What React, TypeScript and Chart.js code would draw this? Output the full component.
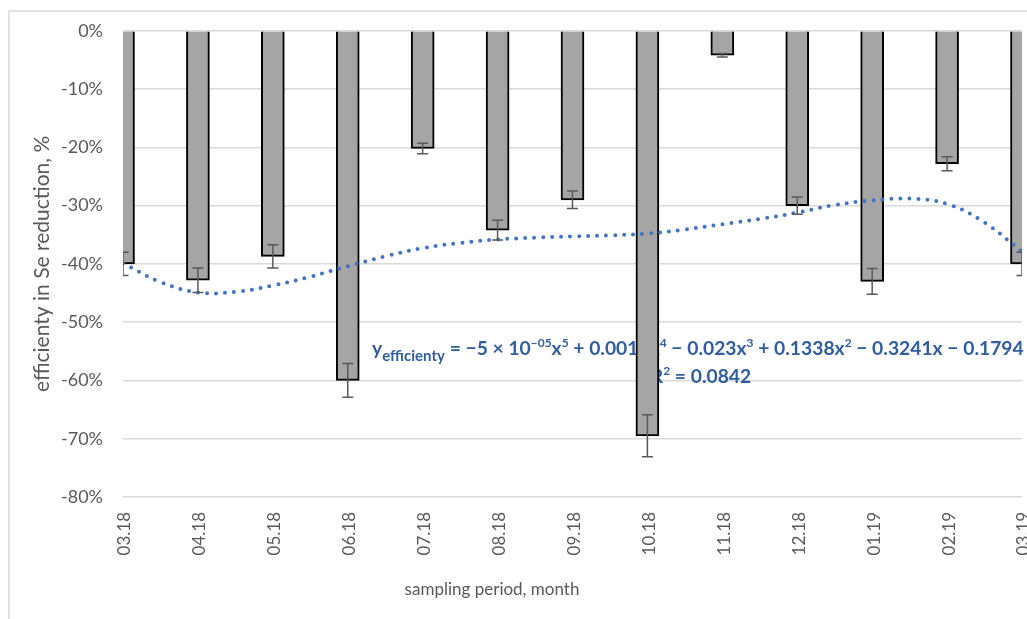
import { useEffect, useRef } from 'react';
import { Chart, registerables } from 'chart.js';

Chart.register(...registerables);

// Sampling months (one bar per month)
const months = ['03.18', '04.18', '05.18', '06.18', '07.18', '08.18', '09.18', '10.18', '11.18', '12.18', '01.19', '02.19', '03.19'];

// Efficiency in Se reduction, %
const efficiency = [-40, -42.8, -38.7, -60, -20.2, -34.2, -29, -69.5, -4.2, -30, -43, -22.8, -40];

// Error margins (±), %
const errorMargin = [2, 2.1, 2, 2.9, 0.9, 1.7, 1.5, 3.6, 0.3, 1.5, 2.2, 1.2, 2];

// Polynomial trendline, sampled along the month index (1 = 03.18 ... 13 = 03.19)
const trendX = [1, 1.5, 2, 2.5, 3, 3.5, 4, 4.5, 5, 5.5, 6, 6.5, 7, 7.5, 8, 8.5, 9, 9.5, 10, 10.5, 11, 11.5, 12, 12.5, 13];
const trendY = [-39.9, -43.1, -44.9, -44.8, -43.7, -42.2, -40.4, -38.7, -37.3, -36.4, -35.8, -35.5, -35.3, -35.1, -34.8, -34.1, -33.2, -32.3, -31.2, -29.9, -29.1, -28.8, -29.7, -32.9, -37.9];

// Y-axis tick values, %
const yTickValues = [0, -10, -20, -30, -40, -50, -60, -70, -80];

const FONT = 'Lato, "Open Sans", sans-serif';
const TEXT_GREY = '#595959';
const EQ_BLUE = '#2F5D9E';

const equationParts: { t: string; k: number; dy: number }[] = [
  { t: 'y', k: 1, dy: 0 },
  { t: 'efficienty', k: 0.78, dy: 5 },
  { t: ' = −5 × 10', k: 1, dy: 0 },
  { t: '−05', k: 0.62, dy: -7 },
  { t: 'x', k: 1, dy: 0 },
  { t: '5', k: 0.62, dy: -7 },
  { t: ' + 0.0018x', k: 1, dy: 0 },
  { t: '4', k: 0.62, dy: -7 },
  { t: ' − 0.023x', k: 1, dy: 0 },
  { t: '3', k: 0.62, dy: -7 },
  { t: ' + 0.1338x', k: 1, dy: 0 },
  { t: '2', k: 0.62, dy: -7 },
  { t: ' − 0.3241x − 0.1794', k: 1, dy: 0 },
];

const rSquaredParts: { t: string; k: number; dy: number }[] = [
  { t: 'R', k: 1, dy: 0 },
  { t: '2', k: 0.62, dy: -7 },
  { t: ' = 0.0842', k: 1, dy: 0 },
];

function drawRich(ctx: CanvasRenderingContext2D, parts: { t: string; k: number; dy: number }[], x: number, y: number, size: number, mode: 'left' | 'center') {
  const widths = parts.map((p) => {
    ctx.font = `bold ${size * p.k}px ${FONT}`;
    return ctx.measureText(p.t).width;
  });
  const total = widths.reduce((a, b) => a + b, 0);
  let cx = mode === 'center' ? x - total / 2 : x;
  parts.forEach((p, i) => {
    ctx.font = `bold ${size * p.k}px ${FONT}`;
    ctx.fillText(p.t, cx, y + p.dy * (size / 17));
    cx += widths[i];
  });
  return total;
}

function measureRich(ctx: CanvasRenderingContext2D, parts: { t: string; k: number; dy: number }[], size: number) {
  let w = 0;
  parts.forEach((p) => {
    ctx.font = `bold ${size * p.k}px ${FONT}`;
    w += ctx.measureText(p.t).width;
  });
  return w;
}

const framePlugin = {
  id: 'frame',
  beforeDraw(chart: any) {
    const { ctx, width, height } = chart;
    ctx.save();
    ctx.fillStyle = '#ffffff';
    ctx.fillRect(0, 0, width, height);
    ctx.strokeStyle = '#d9d9d9';
    ctx.lineWidth = 1.5;
    ctx.beginPath();
    ctx.moveTo(9, height);
    ctx.lineTo(9, 11);
    ctx.lineTo(width, 11);
    ctx.stroke();
    ctx.restore();
  },
};

const equationPlugin = {
  id: 'equation',
  beforeDatasetsDraw(chart: any) {
    const { ctx } = chart;
    ctx.save();
    ctx.fillStyle = EQ_BLUE;
    ctx.textBaseline = 'alphabetic';
    const startX = 372;
    const endX = 1024;
    const base = 17;
    const w = measureRich(ctx, equationParts, base);
    const size = base * ((endX - startX) / w);
    drawRich(ctx, equationParts, startX, 355, size, 'left');
    drawRich(ctx, rSquaredParts, 701, 383, size, 'center');
    ctx.restore();
  },
};

const errorBarPlugin = {
  id: 'errorBars',
  afterDatasetsDraw(chart: any) {
    const { ctx, chartArea, scales } = chart;
    const xs = scales.x;
    const ys = scales.y;
    ctx.save();
    ctx.beginPath();
    ctx.rect(chartArea.left, chartArea.top - 20, chartArea.right - chartArea.left, chartArea.bottom - chartArea.top + 60);
    ctx.clip();
    ctx.strokeStyle = '#595959';
    ctx.lineWidth = 1.5;
    efficiency.forEach((v, i) => {
      const x = xs.getPixelForValue(i + 1);
      const y1 = ys.getPixelForValue(v + errorMargin[i]);
      const y2 = ys.getPixelForValue(v - errorMargin[i]);
      const cap = 5.5;
      ctx.beginPath();
      ctx.moveTo(x, y1);
      ctx.lineTo(x, y2);
      ctx.moveTo(x - cap, y1);
      ctx.lineTo(x + cap, y1);
      ctx.moveTo(x - cap, y2);
      ctx.lineTo(x + cap, y2);
      ctx.stroke();
    });
    ctx.restore();
  },
};

const xLabelsPlugin = {
  id: 'xLabels',
  afterDraw(chart: any) {
    const { ctx, scales } = chart;
    const xs = scales.x;
    ctx.save();
    ctx.fillStyle = TEXT_GREY;
    ctx.font = `17px ${FONT}`;
    months.forEach((m, i) => {
      const x = xs.getPixelForValue(i + 1) + 2;
      ctx.save();
      ctx.translate(x, 512);
      ctx.rotate(-Math.PI / 2);
      ctx.textAlign = 'right';
      ctx.textBaseline = 'middle';
      ctx.fillText(m, 0, 0);
      ctx.restore();
    });
    ctx.font = `17px ${FONT}`;
    ctx.textAlign = 'center';
    ctx.textBaseline = 'middle';
    ctx.fillText('sampling period, month', 492, 590);
    ctx.restore();
  },
};

export default function App() {
  const canvasRef = useRef<HTMLCanvasElement | null>(null);

  useEffect(() => {
    const canvas = canvasRef.current;
    if (!canvas) return;
    const chart = new Chart(canvas, {
      type: 'bar',
      data: {
        datasets: [
          {
            type: 'bar',
            label: 'efficiency',
            data: efficiency.map((v, i) => ({ x: i + 1, y: v })),
            backgroundColor: '#A5A5A5',
            borderColor: '#000000',
            borderWidth: 2,
            barThickness: 23,
            clip: 0,
            order: 1,
          } as any,
          {
            type: 'line',
            label: 'trend',
            data: trendX.map((x, i) => ({ x, y: trendY[i] })),
            borderColor: '#4472C4',
            borderWidth: 4,
            borderDash: [0, 9],
            borderCapStyle: 'round',
            pointRadius: 0,
            tension: 0.4,
            fill: false,
            order: 0,
          } as any,
        ],
      },
      options: {
        responsive: false,
        animation: false,
        devicePixelRatio: 1,
        layout: { padding: { top: 30, bottom: 122, right: 5, left: 0 } },
        plugins: {
          legend: { display: false },
          tooltip: { enabled: false },
        },
        scales: {
          x: {
            type: 'linear',
            min: 1,
            max: 13,
            offset: false,
            display: false,
          },
          y: {
            min: -80,
            max: 0,
            afterFit: (scale: any) => {
              scale.width = 123;
            },
            afterBuildTicks: (scale: any) => {
              scale.ticks = yTickValues.map((v) => ({ value: v }));
            },
            grid: { color: '#d9d9d9', lineWidth: 1.5, drawTicks: false },
            border: { display: false },
            ticks: {
              padding: 20,
              color: TEXT_GREY,
              font: { family: FONT, size: 18 },
              callback: (v: any) => `${v}%`,
            },
            title: {
              display: true,
              text: 'efficienty in Se reduction, %',
              color: TEXT_GREY,
              font: { family: FONT, size: 21 },
              padding: { top: 30, bottom: 0 },
            },
          },
        },
      },
      plugins: [framePlugin, equationPlugin, errorBarPlugin, xLabelsPlugin],
    });
    return () => chart.destroy();
  }, []);

  return (
    <div style={{ position: 'absolute', left: 0, top: 0, width: 1027, height: 619, background: '#fff' }}>
      <canvas ref={canvasRef} width={1027} height={619} style={{ display: 'block' }} />
    </div>
  );
}
